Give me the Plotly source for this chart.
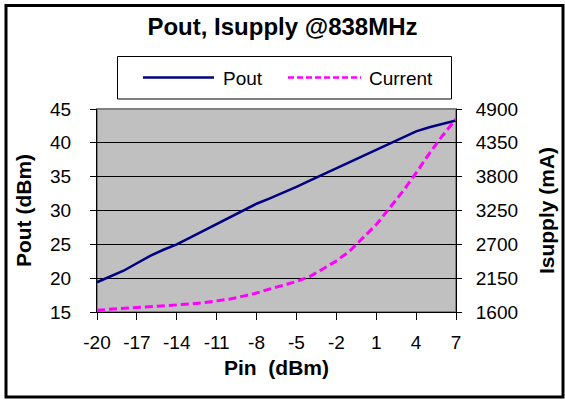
import plotly.graph_objects as go

PIN_DBM = [-20, -19, -18, -17, -16, -15, -14, -13, -12, -11, -10, -9, -8, -7,
           -6, -5, -4, -3, -2, -1, 0, 1, 2, 3, 4, 5, 6, 7]
POUT_DBM = [19.4, 20.3, 21.1, 22.2, 23.3, 24.2, 25.0, 26.0, 27.0, 27.9, 28.9, 29.9,
            31.0, 31.8, 32.6, 33.5, 34.4, 35.3, 36.2, 37.1, 38.1, 39.0, 39.9, 40.8,
            41.7, 42.3, 42.8, 43.3]
ISUPPLY_MA = [1630, 1643, 1655, 1668, 1680, 1692, 1708, 1730, 1752, 1775, 1810, 1858,
              1908, 1975, 2040, 2095, 2175, 2300, 2430, 2590, 2810, 3020, 3290, 3560,
              3860, 4180, 4470, 4740]

X_TICKS = [-20, -17, -14, -11, -8, -5, -2, 1, 4, 7]
X_TICK_LABELS = ["-20", "-17", "-14", "-11", "-8", "-5", "-2", "1", "4", "7"]
POUT_TICKS = [15, 20, 25, 30, 35, 40, 45]
ISUPPLY_TICKS = [1600, 2150, 2700, 3250, 3800, 4350, 4900]

FONT = "Liberation Sans, Arial, sans-serif"
POUT_COLOR = "#000080"
CURRENT_COLOR = "#FF00FF"
CURRENT_DASH = "8px,4px"

# plot area in pixels (565 x 400 page)
W, H = 565, 400
PLOT_L, PLOT_R, PLOT_T, PLOT_B = 97, 456, 109, 312


def px(x):
    return (x - PLOT_L) / (PLOT_R - PLOT_L)


def py(y):
    return (PLOT_B - y) / (PLOT_B - PLOT_T)


fig = go.Figure()
fig.add_trace(go.Scatter(
    x=PIN_DBM, y=POUT_DBM, name="Pout", mode="lines",
    line=dict(color=POUT_COLOR, width=2.5),
))
fig.add_trace(go.Scatter(
    x=PIN_DBM, y=ISUPPLY_MA, name="Current", mode="lines", yaxis="y2",
    line=dict(color=CURRENT_COLOR, width=3, dash=CURRENT_DASH),
))

shapes = [
    # outer chart frame
    dict(type="rect", xref="paper", yref="paper",
         x0=px(6), x1=px(563), y0=py(397), y1=py(5.5),
         line=dict(color="black", width=3)),
    # plot area border (grey top)
    dict(type="rect", xref="paper", yref="paper", layer="below",
         x0=0, x1=1, y0=0, y1=1, line=dict(color="#808080", width=2)),
    # legend box
    dict(type="rect", xref="paper", yref="paper",
         x0=px(117.5), x1=px(451.5), y0=py(99), y1=py(56.5),
         line=dict(color="black", width=1), fillcolor="white"),
    dict(type="line", xref="paper", yref="paper",
         x0=px(143), x1=px(214), y0=py(77.5), y1=py(77.5),
         line=dict(color=POUT_COLOR, width=2.5)),
    dict(type="line", xref="paper", yref="paper",
         x0=px(288), x1=px(361), y0=py(77.5), y1=py(77.5),
         line=dict(color=CURRENT_COLOR, width=2.5, dash="6px,3px")),
]

annotations = [
    dict(text="Pout", x=px(221), y=py(78), xref="paper", yref="paper",
         xanchor="left", yanchor="middle", showarrow=False,
         font=dict(family=FONT, size=19, color="black")),
    dict(text="Current", x=px(367), y=py(78), xref="paper", yref="paper",
         xanchor="left", yanchor="middle", showarrow=False,
         font=dict(family=FONT, size=19, color="black")),
]

tick_font = dict(family=FONT, size=19, color="black")
title_font = dict(family=FONT, size=21, color="black")

fig.update_layout(
    width=W, height=H,
    paper_bgcolor="white",
    plot_bgcolor="#C0C0C0",
    showlegend=False,
    margin=dict(l=PLOT_L, r=W - PLOT_R, t=PLOT_T, b=H - PLOT_B, pad=0),
    title=dict(text="<b>Pout, Isupply @838MHz</b>", x=0.5, xref="container",
               y=1 - 27 / H, yref="container", xanchor="center", yanchor="middle",
               font=dict(family=FONT, size=24, color="black")),
    xaxis=dict(
        range=[-20, 7], tickvals=X_TICKS, ticktext=X_TICK_LABELS,
        ticks="outside", ticklen=7,
        tickcolor="black", showline=True, linecolor="black", linewidth=1,
        showgrid=False, zeroline=False, tickfont=tick_font,
        ticklabelstandoff=6, automargin=False,
        title=dict(text="<b>Pin  (dBm)</b>", font=title_font, standoff=8),
    ),
    yaxis=dict(
        range=[15, 45], tickvals=POUT_TICKS, ticks="outside", ticklen=6,
        tickcolor="black", showline=True, linecolor="black", linewidth=1,
        showgrid=True, gridcolor="black", gridwidth=1, zeroline=False,
        tickfont=tick_font, ticklabelstandoff=15, automargin=False,
        title=dict(text="<b>Pout (dBm)</b>", font=title_font, standoff=12),
    ),
    yaxis2=dict(
        range=[1600, 4900], tickvals=ISUPPLY_TICKS, overlaying="y", side="right",
        ticks="outside", ticklen=5, tickcolor="black", showline=True,
        linecolor="black", linewidth=1, showgrid=False, zeroline=False,
        tickfont=tick_font, ticklabelstandoff=10, automargin=False,
        title=dict(text="<b>Isupply (mA)</b>", font=title_font, standoff=22),
    ),
    shapes=shapes,
    annotations=annotations,
)

fig.write_html("out.html", config={"displayModeBar": False},
               post_script="document.body.style.margin='0';")
